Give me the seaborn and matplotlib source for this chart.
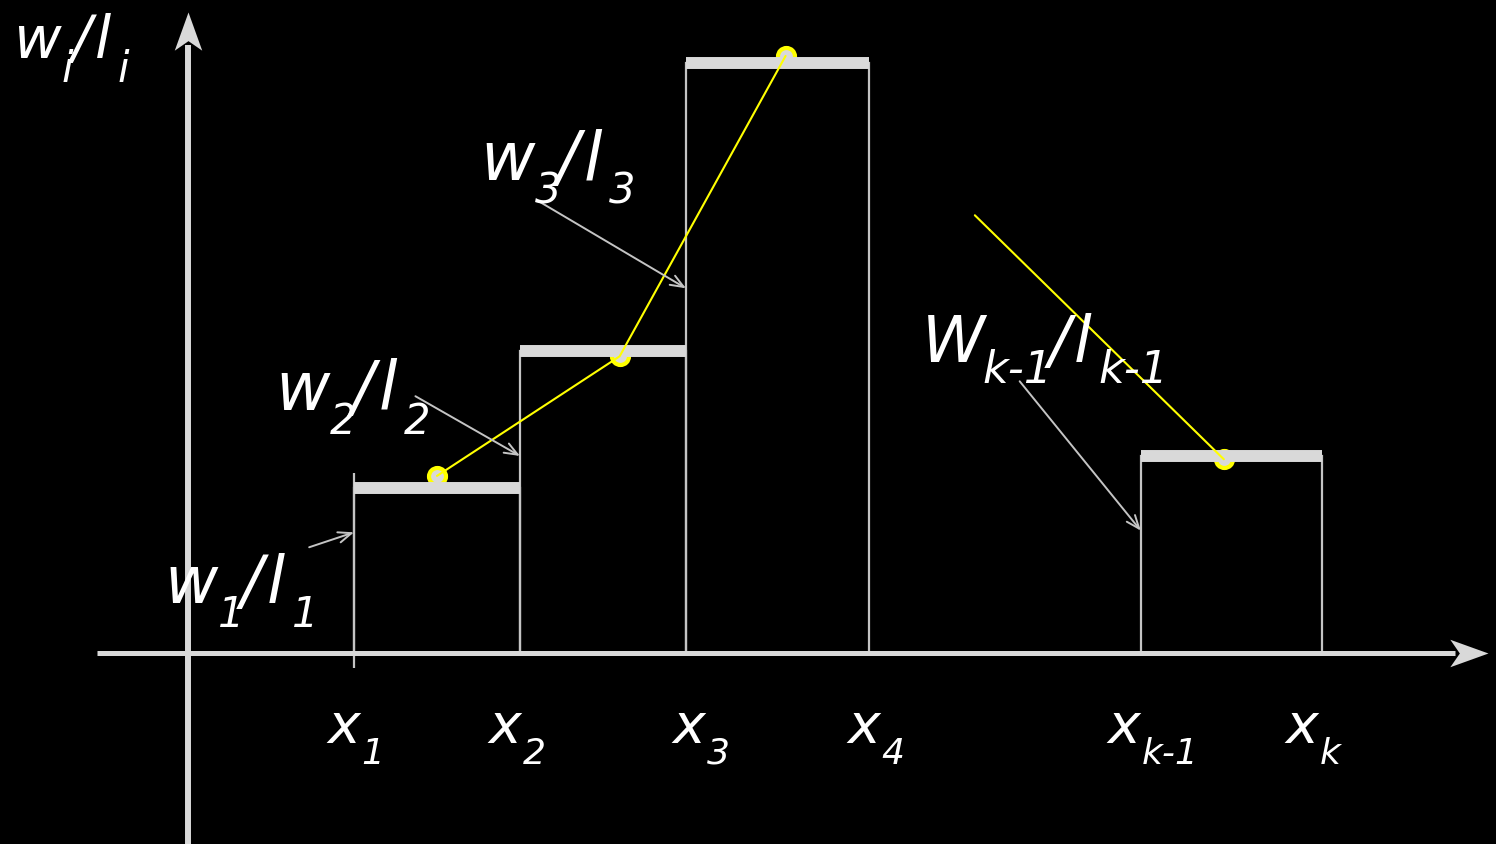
import numpy as np
import matplotlib
matplotlib.use("Agg")
import matplotlib.pyplot as plt
import seaborn as sns

# ================================
# Data (schematic units, origin where the axes cross)
# ================================

bin_left = [1.0, 2.0, 3.0, 5.74]
bin_right = [2.0, 3.0, 4.1, 6.83]
bin_height = [1.00, 1.82, 3.56, 1.19]

# yellow polygon points (bin "centres")
dot_x = [1.50, 2.60, 3.60, 6.24]
dot_y = [1.07, 1.79, 3.60, 1.17]
# start of the last yellow segment
tail_x = 4.74
tail_y = 2.64

# x labels: (main, subscript) and left position
xlab_main = ["x", "x", "x", "x", "x", "x"]
xlab_sub = ["1", "2", "3", "4", "k-1", "k"]
xlab_pos = [0.84, 1.81, 2.92, 3.97, 5.54, 6.61]

# annotation arrows: text end -> bar end
arr_start = [(0.73, 0.64), (1.37, 1.55), (2.12, 2.72), (5.01, 1.64)]
arr_end = [(1.00, 0.73), (2.00, 1.19), (3.00, 2.20), (5.74, 0.74)]

# ================================
# Style
# ================================

sns.set_style("dark", {"axes.facecolor": "black", "figure.facecolor": "black"})
plt.rcParams['font.family'] = ['DejaVu Sans']

GREY = "#d9d9d9"
EDGE = "#c4c4c4"
YEL = "#ffff00"

fig = plt.figure(figsize=(14.96, 8.45), dpi=100)
ax = fig.add_axes([0, 0, 1, 1])

# ================================
# Histogram bars
# ================================

edges = [bin_left[0], bin_left[1], bin_left[2], bin_right[2], bin_left[3], bin_right[3]]
mids = [(l + r) / 2 for l, r in zip(bin_left, bin_right)]
sns.histplot(x=mids, weights=bin_height, bins=edges, stat="count", fill=False,
             element="bars", color=EDGE, linewidth=1.6, ax=ax, zorder=2)
ax.set_xlim(-1.1325, 7.8795)
ax.set_ylim(-1.1476, 3.9428)
ax.axis("off")

# thick tops
ax.hlines(bin_height, bin_left, bin_right, color=GREY, lw=8.6, capstyle="butt", zorder=4)
# tick at x1
ax.vlines(bin_left[0], -0.087, bin_height[0] + 0.09, color=EDGE, lw=1.6, zorder=2)

# ================================
# Yellow polygon
# ================================

sns.scatterplot(x=dot_x, y=dot_y, s=150, color=GREY, edgecolor=YEL, linewidth=3,
                ax=ax, zorder=3, legend=False)
sns.lineplot(x=dot_x[:3], y=dot_y[:3], sort=False, estimator=None, color=YEL,
             lw=1.5, ax=ax, zorder=5)
sns.lineplot(x=[tail_x, dot_x[3]], y=[tail_y, dot_y[3]], sort=False, estimator=None,
             color=YEL, lw=1.5, ax=ax, zorder=5)

# ================================
# Axes with arrow heads
# ================================

x_tip = 7.831
y_tip = 3.864
head_x = [(0, 0), (-2, 0.72), (-1.5, 0), (-2, -0.72), (0, 0)]
head_y = [(0, 0), (0.72, -2), (0, -1.5), (-0.72, -2), (0, 0)]

ax.plot([-0.548, x_tip - 0.2], [0, 0], color=GREY, lw=3.6, solid_capstyle="butt", zorder=6)
ax.plot([x_tip], [0], marker=head_x, ms=55, color=GREY, mew=0, zorder=6)
ax.plot([0, 0], [-1.2, y_tip - 0.2], color=GREY, lw=4.3, solid_capstyle="butt", zorder=6)
ax.plot([0], [y_tip], marker=head_y, ms=55, color=GREY, mew=0, zorder=6)

# ================================
# Annotation arrows
# ================================

for s, e in zip(arr_start, arr_end):
    ax.annotate("", xy=e, xytext=s,
                arrowprops=dict(arrowstyle="->,head_length=0.5,head_width=0.2",
                                color=EDGE, lw=1.4, shrinkA=0, shrinkB=0,
                                mutation_scale=19),
                zorder=6)

# ================================
# Labels with subscripts
# ================================

renderer = fig.canvas.get_renderer()


def put_label(x, y, parts, size, sub_size, drop, gaps=None):
    dx = 0.0
    for i, (txt, sub) in enumerate(parts):
        t = ax.annotate(txt, (x, y), xytext=(dx, -drop if sub else 0),
                        textcoords="offset points", fontsize=sub_size if sub else size,
                        ha="left", va="baseline", color="white", style="italic",
                        zorder=7)
        w = t.get_window_extent(renderer).width * 72 / fig.dpi
        dx += w + (gaps[i] if gaps else 1.0)


def ratio_parts(a, sa, b, sb):
    return [(a, False), (sa, True), ("/", False), (b, False), (sb, True)]


put_label(-1.055, 3.593, ratio_parts("w", "i", "l", "i"), 42, 30, 17, [1, -2, 3, 5, 0])
put_label(-0.139, 0.310, ratio_parts("w", "1", "l", "1"), 47, 30, 17, [0, -3, 3, 5, 0])
put_label(0.524, 1.473, ratio_parts("w", "2", "l", "2"), 48, 30, 17, [0, -3, 3, 5, 0])
put_label(1.760, 2.858, ratio_parts("w", "3", "l", "3"), 48, 30, 17, [0, -3, 3, 5, 0])
put_label(4.422, 1.762, ratio_parts("W", "k-1", "l", "k-1"), 46, 32, 15, [-2, -3, 3, 5, 0])

for m, sub, px in zip(xlab_main, xlab_sub, xlab_pos):
    put_label(px, -0.533, [(m, False), (sub, True)], 40, 26, 15, [1, 0])

plt.savefig("out.png", dpi=100, facecolor="black")
